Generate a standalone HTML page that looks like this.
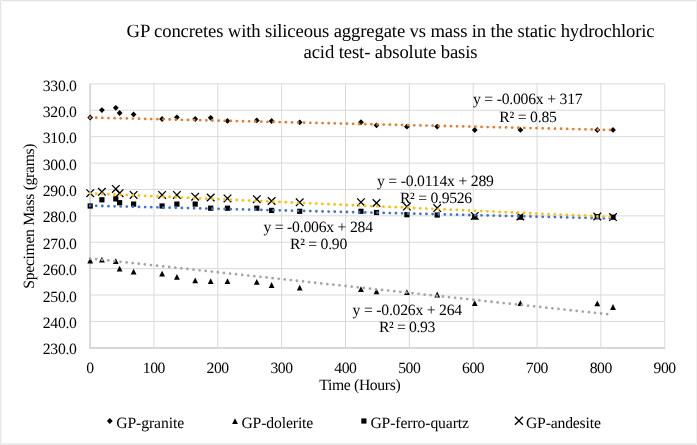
<!DOCTYPE html>
<html><head><meta charset="utf-8"><title>chart</title>
<style>
html,body{margin:0;padding:0;background:#fff;}
body{width:697px;height:445px;overflow:hidden;position:relative;}
svg{position:absolute;left:0;top:0;}
svg text{font-family:"Liberation Serif",serif;fill:#000;text-rendering:geometricPrecision;}
.b{position:absolute;}
.frame{position:absolute;left:0;top:0;width:695px;height:443px;border-style:solid;border-color:#e4e4e4 #f0f0f0 #e6e6e6 #e4e4e4;border-width:1px 1px 1px 1px;}
</style></head><body>
<svg width="697" height="445" viewBox="0 0 697 445">
<line x1="90.10" y1="83.90" x2="664.75" y2="83.90" stroke="#d9d9d9" stroke-width="1"/>
<line x1="90.10" y1="110.29" x2="664.75" y2="110.29" stroke="#d9d9d9" stroke-width="1"/>
<line x1="90.10" y1="136.68" x2="664.75" y2="136.68" stroke="#d9d9d9" stroke-width="1"/>
<line x1="90.10" y1="163.07" x2="664.75" y2="163.07" stroke="#d9d9d9" stroke-width="1"/>
<line x1="90.10" y1="189.46" x2="664.75" y2="189.46" stroke="#d9d9d9" stroke-width="1"/>
<line x1="90.10" y1="215.85" x2="664.75" y2="215.85" stroke="#d9d9d9" stroke-width="1"/>
<line x1="90.10" y1="242.24" x2="664.75" y2="242.24" stroke="#d9d9d9" stroke-width="1"/>
<line x1="90.10" y1="268.63" x2="664.75" y2="268.63" stroke="#d9d9d9" stroke-width="1"/>
<line x1="90.10" y1="295.02" x2="664.75" y2="295.02" stroke="#d9d9d9" stroke-width="1"/>
<line x1="90.10" y1="321.41" x2="664.75" y2="321.41" stroke="#d9d9d9" stroke-width="1"/>
<line x1="90.10" y1="347.80" x2="664.75" y2="347.80" stroke="#d9d9d9" stroke-width="1"/>
<line x1="90.10" y1="83.90" x2="90.10" y2="347.80" stroke="#d9d9d9" stroke-width="1"/>
<line x1="153.95" y1="83.90" x2="153.95" y2="347.80" stroke="#d9d9d9" stroke-width="1"/>
<line x1="217.80" y1="83.90" x2="217.80" y2="347.80" stroke="#d9d9d9" stroke-width="1"/>
<line x1="281.65" y1="83.90" x2="281.65" y2="347.80" stroke="#d9d9d9" stroke-width="1"/>
<line x1="345.50" y1="83.90" x2="345.50" y2="347.80" stroke="#d9d9d9" stroke-width="1"/>
<line x1="409.35" y1="83.90" x2="409.35" y2="347.80" stroke="#d9d9d9" stroke-width="1"/>
<line x1="473.20" y1="83.90" x2="473.20" y2="347.80" stroke="#d9d9d9" stroke-width="1"/>
<line x1="537.05" y1="83.90" x2="537.05" y2="347.80" stroke="#d9d9d9" stroke-width="1"/>
<line x1="600.90" y1="83.90" x2="600.90" y2="347.80" stroke="#d9d9d9" stroke-width="1"/>
<line x1="664.75" y1="83.90" x2="664.75" y2="347.80" stroke="#d9d9d9" stroke-width="1"/>
<line x1="90.10" y1="83.40" x2="90.10" y2="348.8" stroke="#d2d2d2" stroke-width="1.3"/>
<line x1="89.50" y1="348.0" x2="665.25" y2="348.0" stroke="#d2d2d2" stroke-width="1.6"/>
<path d="M90.20 114.60L93.10 117.50L90.20 120.40L87.30 117.50Z" fill="#000"/>
<path d="M101.90 107.20L104.80 110.10L101.90 113.00L99.00 110.10Z" fill="#000"/>
<path d="M115.80 104.90L118.70 107.80L115.80 110.70L112.90 107.80Z" fill="#000"/>
<path d="M119.60 110.10L122.50 113.00L119.60 115.90L116.70 113.00Z" fill="#000"/>
<path d="M133.60 111.50L136.50 114.40L133.60 117.30L130.70 114.40Z" fill="#000"/>
<path d="M162.10 116.10L165.00 119.00L162.10 121.90L159.20 119.00Z" fill="#000"/>
<path d="M176.90 114.40L179.80 117.30L176.90 120.20L174.00 117.30Z" fill="#000"/>
<path d="M195.20 116.10L198.10 119.00L195.20 121.90L192.30 119.00Z" fill="#000"/>
<path d="M210.70 114.90L213.60 117.80L210.70 120.70L207.80 117.80Z" fill="#000"/>
<path d="M227.50 118.00L230.40 120.90L227.50 123.80L224.60 120.90Z" fill="#000"/>
<path d="M256.80 117.50L259.70 120.40L256.80 123.30L253.90 120.40Z" fill="#000"/>
<path d="M271.60 118.10L274.50 121.00L271.60 123.90L268.70 121.00Z" fill="#000"/>
<path d="M299.70 119.40L302.60 122.30L299.70 125.20L296.80 122.30Z" fill="#000"/>
<path d="M360.96 119.35L363.86 122.25L360.96 125.15L358.06 122.25Z" fill="#000"/>
<path d="M376.50 122.45L379.40 125.35L376.50 128.25L373.60 125.35Z" fill="#000"/>
<path d="M406.90 123.80L409.80 126.70L406.90 129.60L404.00 126.70Z" fill="#000"/>
<path d="M437.20 123.70L440.10 126.60L437.20 129.50L434.30 126.60Z" fill="#000"/>
<path d="M474.75 127.10L477.65 130.00L474.75 132.90L471.85 130.00Z" fill="#000"/>
<path d="M520.40 127.00L523.30 129.90L520.40 132.80L517.50 129.90Z" fill="#000"/>
<path d="M597.30 127.10L600.20 130.00L597.30 132.90L594.40 130.00Z" fill="#000"/>
<path d="M613.00 127.00L615.90 129.90L613.00 132.80L610.10 129.90Z" fill="#000"/>
<path d="M90.20 257.60L93.10 263.40L87.30 263.40Z" fill="#000"/>
<path d="M101.90 256.70L104.80 262.50L99.00 262.50Z" fill="#000"/>
<path d="M115.80 258.30L118.70 264.10L112.90 264.10Z" fill="#000"/>
<path d="M119.60 265.70L122.50 271.50L116.70 271.50Z" fill="#000"/>
<path d="M133.60 268.80L136.50 274.60L130.70 274.60Z" fill="#000"/>
<path d="M162.10 270.80L165.00 276.60L159.20 276.60Z" fill="#000"/>
<path d="M176.90 273.90L179.80 279.70L174.00 279.70Z" fill="#000"/>
<path d="M195.20 277.40L198.10 283.20L192.30 283.20Z" fill="#000"/>
<path d="M210.70 278.30L213.60 284.10L207.80 284.10Z" fill="#000"/>
<path d="M227.50 278.30L230.40 284.10L224.60 284.10Z" fill="#000"/>
<path d="M256.80 279.00L259.70 284.80L253.90 284.80Z" fill="#000"/>
<path d="M271.60 282.10L274.50 287.90L268.70 287.90Z" fill="#000"/>
<path d="M299.70 284.80L302.60 290.60L296.80 290.60Z" fill="#000"/>
<path d="M360.96 286.20L363.86 292.00L358.06 292.00Z" fill="#000"/>
<path d="M376.50 288.50L379.40 294.30L373.60 294.30Z" fill="#000"/>
<path d="M406.90 289.20L409.80 295.00L404.00 295.00Z" fill="#000"/>
<path d="M437.20 291.60L440.10 297.40L434.30 297.40Z" fill="#000"/>
<path d="M474.75 300.30L477.65 306.10L471.85 306.10Z" fill="#000"/>
<path d="M520.40 300.30L523.30 306.10L517.50 306.10Z" fill="#000"/>
<path d="M597.30 300.40L600.20 306.20L594.40 306.20Z" fill="#000"/>
<path d="M613.00 304.10L615.90 309.90L610.10 309.90Z" fill="#000"/>
<rect x="87.60" y="203.40" width="5.20" height="5.20" fill="#000"/>
<rect x="99.30" y="197.20" width="5.20" height="5.20" fill="#000"/>
<rect x="113.20" y="196.30" width="5.20" height="5.20" fill="#000"/>
<rect x="117.00" y="200.10" width="5.20" height="5.20" fill="#000"/>
<rect x="131.00" y="201.50" width="5.20" height="5.20" fill="#000"/>
<rect x="159.50" y="203.40" width="5.20" height="5.20" fill="#000"/>
<rect x="174.30" y="201.50" width="5.20" height="5.20" fill="#000"/>
<rect x="192.60" y="201.50" width="5.20" height="5.20" fill="#000"/>
<rect x="208.10" y="205.60" width="5.20" height="5.20" fill="#000"/>
<rect x="224.90" y="205.60" width="5.20" height="5.20" fill="#000"/>
<rect x="254.20" y="205.60" width="5.20" height="5.20" fill="#000"/>
<rect x="269.00" y="207.80" width="5.20" height="5.20" fill="#000"/>
<rect x="297.10" y="208.70" width="5.20" height="5.20" fill="#000"/>
<rect x="358.36" y="208.70" width="5.20" height="5.20" fill="#000"/>
<rect x="373.90" y="209.90" width="5.20" height="5.20" fill="#000"/>
<rect x="404.30" y="212.10" width="5.20" height="5.20" fill="#000"/>
<rect x="434.60" y="212.40" width="5.20" height="5.20" fill="#000"/>
<rect x="472.15" y="214.50" width="5.20" height="5.20" fill="#000"/>
<rect x="517.80" y="214.60" width="5.20" height="5.20" fill="#000"/>
<rect x="594.70" y="214.10" width="5.20" height="5.20" fill="#000"/>
<rect x="610.40" y="214.60" width="5.20" height="5.20" fill="#000"/>
<path d="M86.40 189.40L94.00 197.00M86.40 197.00L94.00 189.40" stroke="#000" stroke-width="1.3" fill="none"/>
<path d="M98.10 188.00L105.70 195.60M98.10 195.60L105.70 188.00" stroke="#000" stroke-width="1.3" fill="none"/>
<path d="M112.00 185.10L119.60 192.70M112.00 192.70L119.60 185.10" stroke="#000" stroke-width="1.3" fill="none"/>
<path d="M115.80 189.40L123.40 197.00M115.80 197.00L123.40 189.40" stroke="#000" stroke-width="1.3" fill="none"/>
<path d="M129.80 191.10L137.40 198.70M129.80 198.70L137.40 191.10" stroke="#000" stroke-width="1.3" fill="none"/>
<path d="M158.30 191.10L165.90 198.70M158.30 198.70L165.90 191.10" stroke="#000" stroke-width="1.3" fill="none"/>
<path d="M173.10 191.10L180.70 198.70M173.10 198.70L180.70 191.10" stroke="#000" stroke-width="1.3" fill="none"/>
<path d="M191.40 192.90L199.00 200.50M191.40 200.50L199.00 192.90" stroke="#000" stroke-width="1.3" fill="none"/>
<path d="M206.90 193.70L214.50 201.30M206.90 201.30L214.50 193.70" stroke="#000" stroke-width="1.3" fill="none"/>
<path d="M223.70 194.60L231.30 202.20M223.70 202.20L231.30 194.60" stroke="#000" stroke-width="1.3" fill="none"/>
<path d="M253.00 195.40L260.60 203.00M253.00 203.00L260.60 195.40" stroke="#000" stroke-width="1.3" fill="none"/>
<path d="M267.80 197.20L275.40 204.80M267.80 204.80L275.40 197.20" stroke="#000" stroke-width="1.3" fill="none"/>
<path d="M295.90 198.50L303.50 206.10M295.90 206.10L303.50 198.50" stroke="#000" stroke-width="1.3" fill="none"/>
<path d="M357.16 198.40L364.76 206.00M357.16 206.00L364.76 198.40" stroke="#000" stroke-width="1.3" fill="none"/>
<path d="M372.70 199.20L380.30 206.80M372.70 206.80L380.30 199.20" stroke="#000" stroke-width="1.3" fill="none"/>
<path d="M403.10 202.80L410.70 210.40M403.10 210.40L410.70 202.80" stroke="#000" stroke-width="1.3" fill="none"/>
<path d="M433.40 204.30L441.00 211.90M433.40 211.90L441.00 204.30" stroke="#000" stroke-width="1.3" fill="none"/>
<path d="M470.95 212.10L478.55 219.70M470.95 219.70L478.55 212.10" stroke="#000" stroke-width="1.3" fill="none"/>
<path d="M516.60 212.60L524.20 220.20M516.60 220.20L524.20 212.60" stroke="#000" stroke-width="1.3" fill="none"/>
<path d="M593.50 212.70L601.10 220.30M593.50 220.30L601.10 212.70" stroke="#000" stroke-width="1.3" fill="none"/>
<path d="M609.20 213.30L616.80 220.90M609.20 220.90L616.80 213.30" stroke="#000" stroke-width="1.3" fill="none"/>
<line x1="90.1" y1="117.6" x2="612.9" y2="130.0" stroke="#e47d2e" stroke-width="2.8" stroke-linecap="round" stroke-dasharray="0 6.118"/>
<line x1="90.1" y1="258.5" x2="612.9" y2="314.8" stroke="#a5a5a5" stroke-width="2.8" stroke-linecap="round" stroke-dasharray="0 6.118"/>
<line x1="90.1" y1="205.7" x2="612.9" y2="218.5" stroke="#4472c4" stroke-width="2.8" stroke-linecap="round" stroke-dasharray="0 6.118"/>
<line x1="90.1" y1="193.4" x2="612.9" y2="217.0" stroke="#f8c008" stroke-width="2.8" stroke-linecap="round" stroke-dasharray="0 6.118"/>
<path d="M109.80 418.10L112.70 421.00L109.80 423.90L106.90 421.00Z" fill="#000"/>
<path d="M235.00 418.30L237.90 424.10L232.10 424.10Z" fill="#000"/>
<rect x="361.30" y="418.40" width="5.20" height="5.20" fill="#000"/>
<path d="M514.90 416.80L522.90 424.80M514.90 424.80L522.90 416.80" stroke="#000" stroke-width="1.3" fill="none"/>
<text x="42.76" y="90.5" font-size="15.7" text-anchor="start" textLength="34.19" lengthAdjust="spacing" >330.0</text>
<text x="42.76" y="116.89" font-size="15.7" text-anchor="start" textLength="34.19" lengthAdjust="spacing" >320.0</text>
<text x="42.76" y="143.28" font-size="15.7" text-anchor="start" textLength="34.19" lengthAdjust="spacing" >310.0</text>
<text x="42.76" y="169.67" font-size="15.7" text-anchor="start" textLength="34.19" lengthAdjust="spacing" >300.0</text>
<text x="42.76" y="196.06" font-size="15.7" text-anchor="start" textLength="34.19" lengthAdjust="spacing" >290.0</text>
<text x="42.76" y="222.45" font-size="15.7" text-anchor="start" textLength="34.19" lengthAdjust="spacing" >280.0</text>
<text x="42.76" y="248.84" font-size="15.7" text-anchor="start" textLength="34.19" lengthAdjust="spacing" >270.0</text>
<text x="42.76" y="275.23" font-size="15.7" text-anchor="start" textLength="34.19" lengthAdjust="spacing" >260.0</text>
<text x="42.76" y="301.62" font-size="15.7" text-anchor="start" textLength="34.19" lengthAdjust="spacing" >250.0</text>
<text x="42.76" y="328.01" font-size="15.7" text-anchor="start" textLength="34.19" lengthAdjust="spacing" >240.0</text>
<text x="42.76" y="354.4" font-size="15.7" text-anchor="start" textLength="34.19" lengthAdjust="spacing" >230.0</text>
<text x="86.25" y="372.5" font-size="15.7" text-anchor="start" textLength="7.9" lengthAdjust="spacing" >0</text>
<text x="142.75" y="372.5" font-size="15.7" text-anchor="start" textLength="22.6" lengthAdjust="spacing" >100</text>
<text x="206.6" y="372.5" font-size="15.7" text-anchor="start" textLength="22.6" lengthAdjust="spacing" >200</text>
<text x="270.45" y="372.5" font-size="15.7" text-anchor="start" textLength="22.6" lengthAdjust="spacing" >300</text>
<text x="334.3" y="372.5" font-size="15.7" text-anchor="start" textLength="22.6" lengthAdjust="spacing" >400</text>
<text x="398.15" y="372.5" font-size="15.7" text-anchor="start" textLength="22.6" lengthAdjust="spacing" >500</text>
<text x="462.0" y="372.5" font-size="15.7" text-anchor="start" textLength="22.6" lengthAdjust="spacing" >600</text>
<text x="525.85" y="372.5" font-size="15.7" text-anchor="start" textLength="22.6" lengthAdjust="spacing" >700</text>
<text x="589.7" y="372.5" font-size="15.7" text-anchor="start" textLength="22.6" lengthAdjust="spacing" >800</text>
<text x="653.55" y="372.5" font-size="15.7" text-anchor="start" textLength="22.6" lengthAdjust="spacing" >900</text>
<text x="319.3" y="390.1" font-size="15.7" text-anchor="start" textLength="81.4" lengthAdjust="spacing" >Time (Hours)</text>
<text x="-72.6" y="0" font-size="15.7" textLength="145.3" lengthAdjust="spacing" transform="translate(34.3,216.1) rotate(-90)">Specimen Mass (grams)</text>
<text x="126.6" y="36.5" font-size="18.7" text-anchor="start" textLength="528.0" lengthAdjust="spacing" >GP concretes with siliceous aggregate vs mass in the static hydrochloric</text>
<text x="303.5" y="58.4" font-size="18.7" text-anchor="start" textLength="174.1" lengthAdjust="spacing" >acid test- absolute basis</text>
<text x="473.0" y="104.1" font-size="15.7" text-anchor="start" textLength="109.6" lengthAdjust="spacing" >y = -0.006x + 317</text>
<text x="499.3" y="121.8" font-size="15.7" text-anchor="start" textLength="57.6" lengthAdjust="spacing" >R² = 0.85</text>
<text x="377.0" y="186.1" font-size="15.7" text-anchor="start" textLength="116.9" lengthAdjust="spacing" >y = -0.0114x + 289</text>
<text x="399.9" y="203.4" font-size="15.7" text-anchor="start" textLength="72.3" lengthAdjust="spacing" >R² = 0.9526</text>
<text x="263.4" y="231.5" font-size="15.7" text-anchor="start" textLength="109.6" lengthAdjust="spacing" >y = -0.006x + 284</text>
<text x="289.9" y="249.4" font-size="15.7" text-anchor="start" textLength="57.4" lengthAdjust="spacing" >R² = 0.90</text>
<text x="352.6" y="314.7" font-size="15.7" text-anchor="start" textLength="109.6" lengthAdjust="spacing" >y = -0.026x + 264</text>
<text x="378.9" y="332.2" font-size="15.7" text-anchor="start" textLength="56.4" lengthAdjust="spacing" >R² = 0.93</text>
<text x="116.2" y="428.2" font-size="15.7" text-anchor="start" textLength="68.0" lengthAdjust="spacing" >GP-granite</text>
<text x="241.4" y="428.2" font-size="15.7" text-anchor="start" textLength="71.9" lengthAdjust="spacing" >GP-dolerite</text>
<text x="370.4" y="428.2" font-size="15.7" text-anchor="start" textLength="98.6" lengthAdjust="spacing" >GP-ferro-quartz</text>
<text x="525.9" y="428.2" font-size="15.7" text-anchor="start" textLength="75.0" lengthAdjust="spacing" >GP-andesite</text>
</svg>
<div class="b" style="left:0;top:0;width:697px;height:1px;background:#e3e3e3"></div><div class="b" style="left:0;top:1px;width:697px;height:1px;background:#f7f7f7"></div><div class="b" style="left:0;top:0;width:1px;height:445px;background:#e5e5e5"></div><div class="b" style="left:1px;top:0;width:1px;height:445px;background:#f8f8f8"></div><div class="b" style="left:0;top:443px;width:697px;height:1px;background:#f1f1f1"></div><div class="b" style="left:0;top:444px;width:697px;height:1px;background:#e6e6e6"></div><div class="b" style="left:696px;top:0;width:1px;height:445px;background:#f1f1f1"></div>
</body></html>
